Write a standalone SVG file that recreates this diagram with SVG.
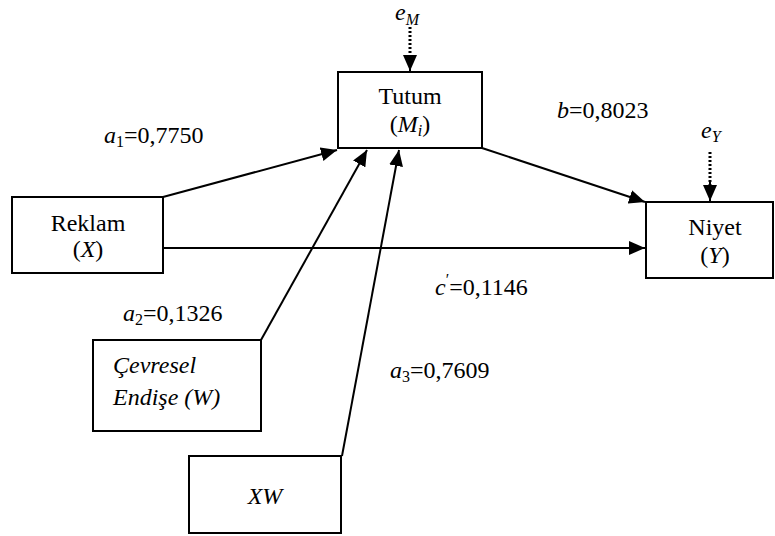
<svg xmlns="http://www.w3.org/2000/svg" width="775" height="536" viewBox="0 0 775 536">
<style>
.box{fill:#fff;stroke:#000;stroke-width:2}
.t{font-family:"Liberation Serif","Times New Roman",serif;font-size:24px;fill:#000}
.i{font-style:italic}
.s{font-size:16px}
.ln{stroke:#000;stroke-width:2;fill:none}
.dot{stroke:#000;stroke-width:3;stroke-dasharray:2,2;fill:none}
</style>
<defs>
<marker id="ah" markerUnits="userSpaceOnUse" markerWidth="18" markerHeight="14" refX="16" refY="7" orient="auto">
<path d="M0,0 L16,7 L0,14 Z" fill="#000"/>
</marker>
</defs>
<rect width="775" height="536" fill="#fff"/>
<g id="connectors">
<line class="ln" x1="163" y1="197" x2="337" y2="150" marker-end="url(#ah)"/>
<line class="ln" x1="163" y1="248" x2="645" y2="248" marker-end="url(#ah)"/>
<line class="ln" x1="482" y1="148" x2="645" y2="202" marker-end="url(#ah)"/>
<line class="ln" x1="261" y1="340" x2="367" y2="150" marker-end="url(#ah)"/>
<line class="ln" x1="342" y1="456" x2="399" y2="150" marker-end="url(#ah)"/>
<line class="dot" x1="410" y1="27" x2="410" y2="60"/>
<line class="ln" x1="410" y1="55" x2="410" y2="71" marker-end="url(#ah)"/>
<line class="dot" x1="710" y1="152" x2="710" y2="186"/>
<line class="ln" x1="710" y1="182" x2="710" y2="201" marker-end="url(#ah)"/>
</g>
<g id="tutum">
<rect class="box" x="338" y="72" width="144" height="76"/>
<text class="t" x="410" y="104" text-anchor="middle">Tutum</text>
<text class="t" x="410" y="132" text-anchor="middle">(<tspan class="i">M</tspan><tspan class="i s" dy="4">i</tspan><tspan dy="-4">)</tspan></text>
</g>
<g id="niyet">
<rect class="box" x="646" y="202" width="127" height="76"/>
<text class="t" x="715" y="235" text-anchor="middle">Niyet</text>
<text class="t" x="715" y="263" text-anchor="middle">(<tspan class="i">Y</tspan>)</text>
</g>
<g id="reklam">
<rect class="box" x="12" y="197" width="151" height="76"/>
<text class="t" x="88" y="231" text-anchor="middle">Reklam</text>
<text class="t" x="88" y="257" text-anchor="middle">(<tspan class="i">X</tspan>)</text>
</g>
<g id="cevresel">
<rect class="box" x="93" y="340" width="168" height="91"/>
<text class="t i" x="113" y="373">Çevresel</text>
<text class="t i" x="113" y="405">Endişe (W)</text>
</g>
<g id="xw">
<rect class="box" x="189" y="456" width="152" height="77"/>
<text class="t i" x="265" y="504" text-anchor="middle">XW</text>
</g>
<g id="labels">
<text class="t" x="395" y="20"><tspan class="i">e</tspan><tspan class="i s" dy="5">M</tspan></text>
<text class="t" x="701" y="138"><tspan class="i">e</tspan><tspan class="i s" dy="4">Y</tspan></text>
<text class="t" x="104" y="143"><tspan class="i">a</tspan><tspan class="s" dy="4">1</tspan><tspan dy="-4">=0,7750</tspan></text>
<text class="t" x="557" y="118"><tspan class="i">b</tspan>=0,8023</text>
<text class="t" x="123" y="321"><tspan class="i">a</tspan><tspan class="s" dy="4">2</tspan><tspan dy="-4">=0,1326</tspan></text>
<text class="t" x="390" y="378"><tspan class="i">a</tspan><tspan class="s" dy="4">3</tspan><tspan dy="-4">=0,7609</tspan></text>
<text class="t" x="435" y="295"><tspan class="i">c</tspan><tspan class="s" dy="-10">′</tspan><tspan dy="10">=0,1146</tspan></text>
</g>
</svg>
